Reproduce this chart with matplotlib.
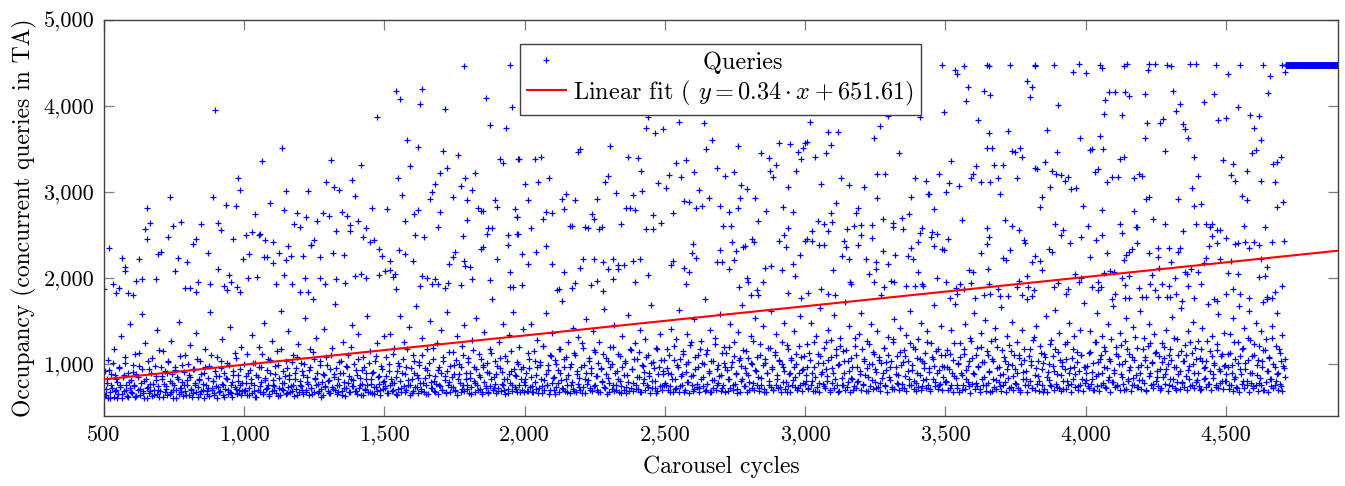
import numpy as np
import matplotlib
matplotlib.use("Agg")
import matplotlib.pyplot as plt
from matplotlib.lines import Line2D
from matplotlib.ticker import FuncFormatter, FixedLocator

plt.rcParams['font.family'] = ['cmr10', 'DejaVu Serif']
plt.rcParams['mathtext.fontset'] = 'cm'
plt.rcParams['axes.formatter.use_mathtext'] = True

# ---------------- data ----------------
# Dense band of occupancy values, one list per 500-cycle block (cycles spread evenly in block)
band_0500 = [920, 640, 780, 1050, 610, 880, 720, 1180, 690, 830, 600, 950, 760, 1320, 650, 870, 1010, 700, 620, 790,
             1460, 680, 910, 740, 1120, 630, 850, 980, 710, 1580, 660, 800, 1240, 610, 730, 940, 690, 1070, 770, 640,
             860, 1390, 700, 620, 960, 820, 1150, 670, 740, 890, 1030, 650, 1270, 780, 700, 930, 610, 850, 1490, 720,
             680, 990, 760, 1100, 640, 810, 870, 1220, 700, 660, 940, 750, 1360, 620, 830, 1040, 690, 770, 900, 1170,
             650, 720, 980, 1600, 700, 800, 640, 860, 1080, 730, 680, 950, 1290, 760, 620, 840, 1010, 700, 1430, 660,
             790, 920, 1130, 710, 650, 870, 760, 1200, 690, 1000]
band_1000 = [700, 860, 1120, 640, 930, 780, 1340, 690, 1010, 620, 850, 1200, 740, 960, 670, 1480, 810, 720, 1060, 650,
             890, 1270, 760, 700, 980, 1150, 630, 840, 1620, 710, 920, 780, 1040, 660, 1380, 870, 740, 690, 1100, 820,
             950, 640, 1230, 760, 1010, 700, 870, 1540, 680, 790, 930, 1170, 720, 650, 1060, 840, 1300, 770, 690, 990,
             620, 880, 1410, 730, 1080, 800, 660, 940, 1190, 710, 850, 1700, 750, 680, 1020, 900, 640, 1260, 790, 720,
             960, 1110, 670, 830, 1450, 740, 1000, 690, 870, 1350, 760, 640, 930, 1080, 710, 820, 1560, 680, 1150, 770,
             900, 650, 1040, 730, 1240, 860, 700, 980, 790, 1320]
band_1500 = [740, 1080, 660, 920, 1350, 780, 700, 1190, 850, 640, 1010, 1560, 720, 890, 1260, 680, 970, 810, 1430, 750,
             660, 1100, 900, 1680, 730, 840, 1020, 690, 1300, 780, 950, 650, 1170, 870, 1500, 720, 1060, 800, 680, 1240,
             930, 760, 1390, 700, 1040, 860, 660, 1610, 790, 980, 730, 1140, 880, 690, 1320, 820, 1000, 670, 1210, 760,
             1450, 900, 710, 1070, 840, 650, 1280, 960, 780, 1540, 700, 1120, 850, 680, 990, 1370, 740, 910, 660, 1180,
             820, 1760, 720, 1030, 880, 690, 1250, 950, 770, 1470, 700, 1090, 830, 660, 1340, 920, 750, 1600, 870, 710,
             1020, 1200, 680, 940, 1410, 790]
band_2000 = [820, 690, 1130, 950, 1470, 740, 680, 1040, 870, 1280, 720, 990, 660, 1210, 810, 1590, 760, 930, 700, 1090,
             1360, 850, 650, 1000, 780, 1170, 900, 1730, 710, 1060, 830, 680, 1250, 960, 750, 1420, 690, 1110, 880, 1310,
             730, 970, 660, 1190, 820, 1520, 770, 1030, 700, 890, 1380, 740, 1140, 860, 670, 1260, 950, 790, 1640, 720,
             1070, 840, 680, 1200, 1000, 760, 1450, 700, 920, 1120, 800, 660, 1330, 870, 1010, 730, 1570, 690, 1160, 940,
             780, 1240, 710, 1060, 850, 1400, 670, 980, 820, 1290, 750, 1100, 900, 1690, 720, 1020, 800, 660, 1180, 960,
             1350, 740, 880, 1050]
band_2500 = [760, 1180, 900, 680, 1410, 830, 1050, 710, 1290, 960, 1630, 740, 880, 1120, 670, 1000, 1350, 790, 1220, 860,
             690, 1520, 940, 770, 1100, 720, 1270, 1010, 850, 1760, 700, 1160, 920, 1400, 680, 1040, 810, 1300, 750, 990,
             1580, 870, 720, 1200, 960, 1130, 690, 830, 1460, 1020, 760, 1250, 900, 660, 1370, 1070, 800, 1690, 740, 950,
             1150, 870, 700, 1320, 1000, 780, 1540, 920, 1080, 720, 1230, 840, 1440, 680, 1010, 890, 1190, 760, 1620, 940,
             700, 1110, 1350, 820, 1050, 730, 1260, 970, 1480, 790, 680, 1170, 900, 1070, 750, 1380, 850, 1000, 720, 1210,
             1560, 930, 780, 1090]
band_3000 = [870, 1230, 720, 1050, 1480, 800, 960, 690, 1330, 1120, 780, 1650, 910, 1010, 740, 1260, 860, 1400, 700, 1080,
             950, 1570, 820, 1180, 680, 1000, 1300, 760, 1150, 890, 1720, 730, 1030, 1440, 840, 960, 700, 1210, 1100, 790,
             1350, 920, 1590, 750, 1060, 870, 1270, 690, 1000, 1470, 810, 1140, 940, 720, 1380, 1050, 780, 1800, 900, 1190,
             740, 1020, 1310, 850, 960, 710, 1250, 1520, 880, 1090, 770, 1420, 990, 720, 1160, 860, 1340, 1040, 750, 1620,
             930, 1200, 800, 690, 1070, 1290, 870, 1480, 740, 1010, 1130, 820, 1380, 950, 710, 1240, 1060, 1690, 790, 900,
             1170, 760, 1440, 980, 850, 1100]
band_3500 = [800, 1160, 940, 720, 1390, 1050, 860, 1700, 760, 1010, 1240, 890, 700, 1120, 1460, 830, 980, 740, 1300, 1070,
             900, 1590, 780, 1190, 960, 710, 1360, 1020, 850, 1510, 750, 1100, 920, 1270, 690, 1040, 1420, 810, 1200, 970,
             740, 1660, 880, 1080, 790, 1330, 1000, 720, 1150, 1490, 860, 940, 770, 1260, 1110, 700, 1390, 910, 1050, 830,
             1750, 760, 1180, 990, 720, 1310, 870, 1440, 1030, 800, 1210, 940, 680, 1120, 1560, 850, 1000, 760, 1280, 1090,
             920, 1630, 730, 1140, 1360, 870, 980, 710, 1230, 1060, 800, 1480, 950, 770, 1170, 1320, 880, 1020, 740, 1400,
             1110, 820, 1710, 960]
band_4000 = [900, 740, 1130, 1380, 820, 1010, 700, 1250, 1590, 880, 1060, 760, 1320, 970, 1150, 720, 1470, 850, 1040, 790,
             1680, 930, 1200, 740, 1090, 1360, 880, 1000, 700, 1270, 1530, 820, 1120, 960, 760, 1430, 1050, 870, 1190, 730,
             1620, 990, 810, 1300, 1080, 690, 1210, 1460, 900, 1020, 770, 1350, 1140, 850, 1780, 940, 720, 1240, 1070, 880,
             1400, 1000, 760, 1170, 1550, 830, 960, 700, 1290, 1100, 920, 1650, 790, 1030, 1220, 860, 1380, 980, 740, 1130,
             1490, 900, 1060, 810, 1270, 700, 1180, 1420, 950, 840, 1040, 1700, 770, 1150, 1330, 880, 1010, 730, 1230, 1580,
             920, 1090, 800, 1360, 990]
band_4500 = [880, 1120, 760, 1350, 990, 1540, 830, 1060, 720, 1260, 1680, 940, 1180, 800, 1420, 1010, 760, 1300, 1620, 900,
             1090, 740, 1230, 1480, 870, 1050, 780, 1380, 960, 1160, 700, 1290, 1750, 920, 1080, 820, 1440, 1000, 760, 1210,
             1590, 890, 1130, 740, 1340, 980, 1060]

# Second pass over the dense core of the band (mostly 600-1300 queries)
core_0500 = [640, 710, 820, 600, 930, 680, 760, 1010, 620, 870, 700, 790, 650, 960, 730, 610, 850, 690, 1080, 760, 630,
             900, 720, 810, 660, 990, 750, 620, 880, 700, 1130, 640, 780, 940, 690, 610, 830, 720, 1040, 660, 770, 900,
             630, 700, 980, 810, 650, 740, 1160, 690, 860, 620, 770, 920, 710, 640, 1020, 800, 680, 880, 600, 750, 960,
             700, 830, 650, 1090, 720, 790, 630, 910, 690, 760, 1000, 640, 850, 710, 620, 940, 780, 670, 1060, 730, 810,
             650, 880, 700, 600, 970, 760, 690, 840, 630, 1110, 720, 800, 660, 920, 740, 610, 860, 690, 1030, 770, 640,
             900, 710, 820, 650, 990, 680, 750, 620, 870, 730, 1070, 660, 800, 700, 940, 640, 780, 690]
core_1000 = [690, 780, 640, 900, 720, 830, 660, 1010, 750, 620, 870, 700, 960, 680, 790, 1120, 650, 840, 710, 930, 760,
             630, 1050, 690, 810, 740, 880, 660, 990, 720, 640, 1170, 780, 700, 860, 650, 950, 730, 820, 680, 1020, 760,
             630, 890, 710, 1080, 670, 800, 740, 920, 650, 1000, 700, 850, 770, 640, 960, 720, 1140, 680, 830, 750, 900,
             660, 1030, 710, 790, 640, 870, 740, 990, 690, 810, 660, 1110, 730, 880, 700, 950, 650, 820, 760, 1040, 690,
             900, 720, 630, 980, 780, 860, 670, 1200, 740, 810, 690, 930, 650, 1060, 720, 840, 770, 640, 970, 700, 890,
             750, 1010, 680, 820, 660, 910, 730, 1090, 690, 850, 770, 640, 940, 710, 800]
core_1500 = [720, 860, 660, 1000, 750, 830, 690, 1120, 780, 650, 920, 710, 980, 800, 670, 1060, 740, 880, 700, 1170, 760,
             640, 950, 820, 690, 1030, 730, 870, 660, 990, 780, 710, 1100, 680, 840, 750, 930, 650, 1010, 790, 720, 1190,
             690, 860, 770, 650, 960, 740, 890, 700, 1080, 810, 680, 920, 760, 1140, 670, 850, 730, 990, 700, 1050, 640,
             880, 780, 960, 710, 1110, 690, 830, 750, 1020, 660, 900, 730, 1160, 800, 680, 940, 760, 870, 710, 1060, 650,
             970, 790, 720, 1010, 680, 890, 740, 1130, 700, 850, 770, 660, 980, 720, 1070, 690, 910, 760, 830, 650, 1040,
             710, 880, 780, 1150, 690, 940, 730, 860, 670, 1000, 750, 820, 700, 960, 680]
core_2000 = [760, 900, 690, 1060, 730, 850, 680, 1150, 790, 710, 970, 660, 1020, 820, 740, 1210, 700, 880, 760, 990, 650,
             1100, 780, 840, 700, 1050, 730, 930, 670, 1180, 810, 720, 960, 690, 1080, 750, 870, 660, 1000, 790, 710, 1130,
             680, 920, 770, 840, 700, 1240, 730, 990, 660, 890, 810, 1070, 720, 950, 690, 1160, 760, 860, 700, 1010, 670,
             940, 800, 1120, 730, 880, 650, 1040, 780, 970, 710, 1200, 690, 900, 760, 830, 680, 1090, 740, 960, 700, 1030,
             660, 870, 790, 1170, 720, 940, 690, 1060, 750, 850, 710, 1140, 670, 990, 780, 910, 700, 1080, 730, 860, 660,
             1010, 800, 950, 720, 1190, 690, 880, 740, 1050, 700, 920, 760]
core_2500 = [780, 950, 700, 1100, 740, 880, 680, 1210, 830, 720, 990, 670, 1060, 860, 750, 1150, 700, 910, 790, 1020, 660,
             1250, 760, 870, 710, 1080, 730, 960, 680, 1180, 820, 740, 1000, 690, 1120, 770, 900, 670, 1040, 810, 720, 1230,
             700, 940, 780, 860, 690, 1130, 750, 1010, 670, 930, 830, 1200, 720, 970, 700, 1090, 770, 880, 710, 1050, 680,
             980, 820, 1160, 740, 900, 670, 1070, 790, 1010, 720, 1270, 700, 930, 760, 850, 690, 1110, 750, 990, 710, 1060,
             680, 890, 800, 1190, 730, 960, 700, 1140, 760, 870, 720, 1030, 680, 1000, 790, 920, 710, 1220, 740, 880, 670,
             1050, 810, 960, 730, 1120, 700, 900, 750, 1080, 690, 940, 770]
core_3000 = [800, 970, 710, 1130, 760, 900, 690, 1250, 850, 730, 1010, 680, 1090, 880, 770, 1190, 720, 940, 800, 1050, 670,
             1280, 780, 890, 720, 1110, 750, 990, 690, 1210, 840, 760, 1030, 700, 1160, 790, 920, 680, 1070, 830, 740, 1300,
             720, 960, 800, 880, 700, 1170, 770, 1040, 690, 950, 850, 1230, 740, 1000, 710, 1120, 790, 910, 730, 1080, 690,
             1010, 840, 1190, 760, 930, 680, 1100, 810, 1040, 730, 1290, 710, 960, 780, 870, 700, 1140, 770, 1020, 720, 1090,
             690, 920, 820, 1240, 750, 990, 710, 1180, 780, 890, 730, 1060, 700, 1030, 810, 950, 720, 1260, 760, 910, 690,
             1080, 830, 980, 740, 1150, 710, 930, 770, 1110, 700, 970, 790]
core_3500 = [790, 960, 700, 1120, 750, 890, 680, 1240, 840, 720, 1000, 670, 1080, 870, 760, 1180, 710, 930, 790, 1040, 660,
             1270, 770, 880, 710, 1100, 740, 980, 680, 1200, 830, 750, 1020, 690, 1150, 780, 910, 670, 1060, 820, 730, 1290,
             710, 950, 790, 870, 690, 1160, 760, 1030, 680, 940, 840, 1220, 730, 990, 700, 1110, 780, 900, 720, 1070, 680,
             1000, 830, 1180, 750, 920, 670, 1090, 800, 1030, 720, 1280, 700, 950, 770, 860, 690, 1130, 760, 1010, 710, 1080,
             680, 910, 810, 1230, 740, 980, 700, 1170, 770, 880, 720, 1050, 690, 1020, 800, 940, 710, 1250, 750, 900, 680,
             1070, 820, 970, 730, 1140, 700, 920, 760, 1100, 690, 960, 780]
core_4000 = [810, 980, 720, 1140, 770, 910, 700, 1260, 860, 740, 1020, 690, 1100, 890, 780, 1200, 730, 950, 810, 1060, 680,
             1290, 790, 900, 730, 1120, 760, 1000, 700, 1220, 850, 770, 1040, 710, 1170, 800, 930, 690, 1080, 840, 750, 1310,
             730, 970, 810, 890, 710, 1180, 780, 1050, 700, 960, 860, 1240, 750, 1010, 720, 1130, 800, 920, 740, 1090, 700,
             1020, 850, 1200, 770, 940, 690, 1110, 820, 1050, 740, 1300, 720, 970, 790, 880, 710, 1150, 780, 1030, 730, 1100,
             700, 930, 830, 1250, 760, 1000, 720, 1190, 790, 900, 740, 1070, 710, 1040, 820, 960, 730, 1270, 770, 920, 700,
             1090, 840, 990, 750, 1160, 720, 940, 780, 1120, 710, 980, 800]
core_4500 = [800, 970, 710, 1130, 760, 900, 690, 1250, 850, 730, 1010, 680, 1090, 880, 770, 1190, 720, 940, 800, 1050, 670,
             1280, 780, 890, 720, 1110, 750, 990, 690, 1210, 840, 760, 1030, 700, 1160, 790, 920, 680, 1070, 830, 740, 1300,
             720, 960, 800, 880, 700, 1170, 770, 1040, 690, 950, 850]

band_blocks = [(500, 1000, band_0500), (1000, 1500, band_1000), (1500, 2000, band_1500),
               (2000, 2500, band_2000), (2500, 3000, band_2500), (3000, 3500, band_3000),
               (3500, 4000, band_3500), (4000, 4500, band_4000), (4500, 4712, band_4500),
               (500, 1000, core_0500), (1000, 1500, core_1000), (1500, 2000, core_1500),
               (2000, 2500, core_2000), (2500, 3000, core_2500), (3000, 3500, core_3000),
               (3500, 4000, core_3500), (4000, 4500, core_4000), (4500, 4712, core_4500)]

# Individually visible high-occupancy queries (cycle, occupancy)
high_500_1250 = [(896, 3953), (1133, 3508), (1064, 3360), (978, 3159), (986, 3023), (1149, 3015), (1227, 3015),
                 (736, 2938), (889, 2938), (654, 2810), (936, 2849), (969, 2837), (1093, 2868), (1142, 2791),
                 (1189, 2760), (1219, 2705), (664, 2636), (646, 2574), (745, 2601), (776, 2647), (847, 2628),
                 (905, 2643), (917, 2558), (1037, 2740), (1178, 2628), (1200, 2589), (654, 2450), (727, 2473),
                 (828, 2450), (816, 2399), (959, 2457), (1007, 2500), (1029, 2539), (1052, 2500), (1058, 2512),
                 (1073, 2442), (1102, 2419), (1157, 2368), (1239, 2380), (519, 2353), (565, 2229), (625, 2217),
                 (694, 2275), (704, 2302), (765, 2229), (797, 2186), (870, 2287), (997, 2225), (1018, 2275),
                 (1070, 2240), (1083, 2240), (1104, 2170), (1125, 2287), (1149, 2209), (1168, 2252), (1208, 2260),
                 (574, 2128), (575, 2081), (753, 2081), (908, 2105), (947, 2035), (1142, 2035), (1218, 1996),
                 (615, 1969), (637, 1988), (687, 1984), (837, 1957), (879, 1934), (954, 1957), (1012, 1996),
                 (1047, 2011), (1113, 1934), (1169, 1930), (531, 1926), (500, 1868), (553, 1880), (543, 1822),
                 (587, 1829), (605, 1802), (788, 1880), (807, 1880), (827, 1841), (928, 1903), (937, 1864),
                 (975, 1895), (986, 1841), (1199, 1841), (1227, 1833), (1246, 1756)]
high_1250_2000 = [(1782, 4469), (1948, 4473), (1541, 4178), (1554, 4085), (1635, 4201), (1628, 4019), (1716, 3965),
                  (1861, 4089), (1954, 3984), (1472, 3876), (1876, 3779), (1932, 3748), (1581, 3601), (1621, 3519),
                  (1709, 3480), (1763, 3426), (1309, 3368), (1416, 3318), (1591, 3306), (1913, 3387), (1921, 3333),
                  (1978, 3384), (1699, 3217), (1724, 3279), (1823, 3221), (1787, 3159), (1547, 3159), (1385, 3139),
                  (1290, 3112), (1319, 3058), (1339, 3023), (1396, 2950), (1562, 2965), (1681, 3089), (1670, 3004),
                  (1662, 2915), (1743, 2946), (1773, 3070), (1813, 3023), (1794, 2911), (1894, 2907), (1903, 2826),
                  (1833, 2818), (1843, 2779), (1850, 2779), (1455, 2814), (1510, 2798), (1619, 2791), (1604, 2748),
                  (1698, 2767), (1964, 2802), (1971, 2705), (1281, 2756), (1301, 2721), (1258, 2659), (1348, 2771),
                  (1367, 2721), (1407, 2659), (1379, 2612), (1377, 2550), (1435, 2577), (1329, 2546), (1572, 2667),
                  (1691, 2593), (1793, 2670), (1868, 2577), (1883, 2577), (1866, 2508), (1425, 2477), (1464, 2438),
                  (1447, 2418), (1610, 2496), (1642, 2481), (1781, 2488), (1940, 2496), (1971, 2512), (1250, 2438),
                  (1239, 2384), (1480, 2341), (1491, 2260), (1553, 2322), (1572, 2283), (1520, 2201), (1601, 2201),
                  (1270, 2248), (1318, 2294), (1357, 2271), (1752, 2306), (1743, 2240), (1732, 2163), (1782, 2198),
                  (1788, 2139), (1804, 2124), (1844, 2333), (1852, 2357), (1902, 2217), (1941, 2384), (1948, 2074),
                  (1395, 2027), (1415, 2050), (1436, 2000), (1481, 2031), (1502, 2081), (1520, 2089), (1530, 2015),
                  (1539, 2050), (1270, 1996), (1289, 1930), (1328, 1992), (1358, 1938), (1635, 2019), (1653, 1996),
                  (1668, 1926), (1681, 1992), (1691, 1934), (1725, 1946), (1716, 1880), (1773, 1918), (1813, 1984),
                  (1876, 1973), (1542, 1872), (1627, 1911), (1947, 1891), (1958, 1891)]
high_2000_2700 = [(2075, 4484), (2440, 3876), (2432, 3744), (2465, 3686), (2494, 3728), (2550, 3814), (2640, 3802),
                  (2667, 3601), (2647, 3504), (1981, 3384), (2038, 3388), (2058, 3403), (2189, 3469), (2196, 3496),
                  (2306, 3535), (2367, 3407), (2405, 3399), (2414, 3244), (2539, 3337), (2577, 3372), (2602, 3232),
                  (2685, 3275), (2002, 3089), (2046, 3116), (2088, 3167), (2285, 3112), (2297, 3182), (2474, 3108),
                  (2514, 3194), (2558, 3174), (2504, 3046), (2620, 3023), (2012, 2903), (2132, 2915), (2149, 2977),
                  (2179, 2911), (2257, 2918), (2324, 2988), (2385, 2969), (2420, 3008), (2659, 2930), (2141, 2802),
                  (2360, 2814), (2375, 2818), (2394, 2787), (2569, 2891), (2587, 2880), (2612, 2810), (2632, 2837),
                  (2696, 2837), (1974, 2709), (2077, 2763), (2097, 2752), (2067, 2682), (2239, 2744), (2246, 2686),
                  (2457, 2728), (2530, 2752), (2021, 2585), (2160, 2601), (2168, 2601), (2216, 2589), (2227, 2585),
                  (2265, 2574), (2274, 2593), (2344, 2628), (2431, 2574), (2456, 2566), (2486, 2636), (1975, 2508),
                  (2600, 2391), (2596, 2294), (2610, 2236), (2076, 2368), (2039, 2306), (1991, 2275), (2013, 2167),
                  (2096, 2163), (2140, 2066), (2196, 2112), (2209, 2225), (2247, 2217), (2280, 2182), (2296, 2105),
                  (2316, 2217), (2334, 2151), (2334, 2105), (2354, 2151), (2385, 2201), (2413, 2217), (2439, 2031),
                  (2522, 2151), (2528, 2198), (2568, 2112), (2587, 2066), (2695, 2325), (2685, 2190), (1990, 1918),
                  (2257, 1969), (2316, 1988), (2394, 1957), (2577, 1926), (2178, 1938), (2236, 1918), (2117, 1860),
                  (2124, 1872), (2278, 1849), (2167, 1880)]
high_2700_3450 = [(3016, 3810), (3083, 3694), (3118, 3694), (3246, 3624), (3268, 3771), (3294, 3884), (3408, 3876),
                  (2760, 3531), (2906, 3570), (2947, 3562), (3000, 3570), (3007, 3577), (2992, 3512), (2976, 3461),
                  (2985, 3384), (3093, 3550), (3075, 3453), (3036, 3403), (2842, 3457), (2870, 3391), (2896, 3310),
                  (2876, 3240), (2884, 3178), (2966, 3248), (3335, 3453), (2716, 3182), (2746, 3236), (2773, 3085),
                  (2794, 3039), (2940, 3058), (3055, 3093), (3129, 3167), (3157, 3081), (3211, 3058), (3258, 3205),
                  (3284, 3209), (3392, 3167), (3431, 3132), (3439, 2977), (2769, 2926), (2822, 2930), (3257, 2926),
                  (3377, 2942), (2761, 2818), (2727, 2771), (2859, 2783), (2921, 2822), (2956, 2771), (3111, 2872),
                  (3092, 2760), (3187, 2810), (3180, 2760), (3369, 2740), (3344, 2694), (3276, 2686), (2706, 2605),
                  (2735, 2601), (2832, 2667), (2940, 2585), (3045, 2663), (3066, 2628), (3096, 2651), (3150, 2570),
                  (3174, 2601), (3199, 2616), (3237, 2612), (3313, 2639), (3314, 2593), (3348, 2566), (3418, 2577),
                  (3410, 2519), (2924, 2500), (3024, 2550), (3082, 2542), (3200, 2504), (3237, 2469), (2738, 2422),
                  (2812, 2453), (2817, 2415), (2906, 2426), (2932, 2356), (3005, 2453), (2998, 2430), (3026, 2430),
                  (3048, 2384), (3066, 2384), (3138, 2426), (3145, 2356), (3190, 2384), (3402, 2422), (2780, 2360),
                  (2786, 2368), (2755, 2310), (3378, 2349), (3277, 2310), (2703, 2186), (2746, 2213), (2727, 2105),
                  (2856, 2112), (2877, 2143), (2917, 2089), (2955, 2159), (2983, 2267), (3130, 2260), (3156, 2221),
                  (3218, 2217), (3251, 2186), (3252, 2105), (3294, 2159), (3321, 2267), (3366, 2256), (3386, 2221),
                  (3402, 2074), (3098, 2089), (3228, 2046), (2965, 2027), (2849, 1953), (2798, 1953), (2791, 1996),
                  (2763, 1899), (3161, 1957), (3164, 1926), (3244, 1957), (3283, 1891), (3307, 1969), (3317, 1950),
                  (3360, 1911), (3390, 1907), (3416, 1934), (3421, 1903), (3055, 1872), (3083, 1818), (3106, 1802),
                  (2938, 1822), (3009, 1822), (2985, 1767), (2828, 1860), (2831, 1802), (2807, 1802)]
high_3450_4180 = [(3488, 4480), (3533, 4418), (3541, 4372), (3568, 4465), (3647, 4477), (3654, 4465), (3731, 4477),
                  (3818, 4480), (3821, 4469), (3889, 4480), (3956, 4391), (3975, 4484), (4000, 4387), (4052, 4477),
                  (4059, 4438), (4137, 4465), (4148, 4484), (3792, 4291), (3809, 4225), (3801, 4104), (3581, 4221),
                  (3637, 4178), (3660, 4128), (3574, 4054), (3903, 4011), (3495, 3934), (3618, 3837), (4064, 3907),
                  (4085, 4163), (4104, 4159), (4141, 4163), (4154, 4112), (4068, 4070), (4130, 3899), (3655, 3690),
                  (3724, 3709), (3863, 3717), (3981, 3628), (4052, 3651), (3649, 3515), (3666, 3515), (3737, 3473),
                  (3749, 3461), (3766, 3508), (3774, 3403), (3897, 3465), (4016, 3492), (4023, 3500), (4062, 3500),
                  (4123, 3384), (4138, 3407), (3521, 3360), (3610, 3298), (3675, 3310), (3707, 3314), (3820, 3283),
                  (3827, 3271), (3855, 3345), (3882, 3248), (3896, 3205), (3914, 3194), (3938, 3178), (3928, 3132),
                  (4034, 3236), (4043, 3271), (4095, 3178), (4115, 3170), (4174, 3159), (3479, 3213), (3512, 3108),
                  (3548, 3066), (3592, 3167), (3600, 3209), (3627, 3116), (3660, 3112), (3686, 3159), (3756, 3159),
                  (3872, 3062), (3947, 3035), (3966, 3043), (4077, 3112), (3441, 2981), (3503, 2996), (3694, 2981),
                  (3845, 2946), (3836, 2822), (3989, 2833), (4058, 2787), (4172, 2779), (3459, 2802), (3558, 2674),
                  (3714, 2670), (3738, 2601), (3764, 2562), (3647, 2585), (3655, 2477), (3649, 2399), (3782, 2442),
                  (3784, 2403), (3890, 2632), (3918, 2558), (3913, 2500), (3946, 2411), (3982, 2477), (4009, 2608),
                  (4036, 2446), (4057, 2504), (4123, 2624), (4130, 2519), (4181, 2597), (3452, 2531), (3469, 2515),
                  (3449, 2473), (3511, 2450), (3460, 2376), (3487, 2341), (3495, 2322), (3626, 2287), (3706, 2232),
                  (3716, 2209), (3731, 2322), (3819, 2260), (3809, 2182), (3838, 2201), (3870, 2333), (3880, 2302),
                  (4017, 2244), (4075, 2294), (4143, 2267), (4153, 2298), (4164, 2337), (4136, 2209), (3584, 2093),
                  (3598, 2074), (3653, 2101), (3845, 2089), (3792, 2023), (3470, 1996), (3503, 1950), (3553, 1934),
                  (3590, 1942), (3654, 1934), (3763, 1965), (3901, 1938), (3964, 2046), (3984, 2004), (3978, 1957),
                  (4046, 1953), (4065, 2054), (4087, 2081), (4103, 2070), (4129, 1996), (4154, 2027), (3538, 1887),
                  (3568, 1872), (3687, 1872), (3756, 1899), (3794, 1899), (3815, 1860), (3888, 1891), (3938, 1868),
                  (4024, 1891), (4043, 1860), (4055, 1891), (4142, 1918), (3541, 1810), (3515, 1764), (3606, 1771),
                  (3636, 1802), (3660, 1810), (3694, 1795), (3724, 1795), (3774, 1802), (3809, 1795), (3929, 1810),
                  (4104, 1818), (4093, 1752), (4142, 1764), (4156, 1764)]
high_4180_4712 = [(4226, 4484), (4249, 4484), (4224, 4418), (4291, 4477), (4303, 4465), (4374, 4484), (4393, 4484),
                  (4466, 4480), (4549, 4477), (4632, 4480), (4702, 4477), (4508, 4376), (4657, 4345), (4712, 4391),
                  (4211, 4139), (4312, 4170), (4458, 4143), (4649, 4151), (4338, 4019), (4321, 3938), (4422, 4042),
                  (4542, 3992), (4218, 3798), (4267, 3798), (4276, 3845), (4348, 3794), (4356, 3736), (4472, 3833),
                  (4499, 3864), (4586, 3895), (4618, 3884), (4601, 3748), (4211, 3632), (4366, 3628), (4625, 3608),
                  (4283, 3480), (4387, 3407), (4489, 3372), (4526, 3325), (4594, 3457), (4609, 3488), (4668, 3329),
                  (4684, 3353), (4695, 3403), (4192, 3205), (4202, 3190), (4401, 3190), (4517, 3198), (4534, 3132),
                  (4576, 3248), (4625, 3132), (4676, 3116), (4380, 3050), (4217, 2915), (4226, 2938), (4330, 2922),
                  (4386, 2841), (4413, 2860), (4556, 2953), (4576, 2903), (4683, 2826), (4703, 2880), (4240, 2686),
                  (4184, 2597), (4283, 2624), (4348, 2546), (4393, 2632), (4431, 2632), (4451, 2632), (4444, 2593),
                  (4469, 2554), (4479, 2554), (4449, 2492), (4499, 2461), (4564, 2605), (4640, 2589), (4184, 2403),
                  (4226, 2294), (4258, 2345), (4259, 2244), (4299, 2353), (4329, 2298), (4338, 2353), (4439, 2376),
                  (4467, 2407), (4534, 2395), (4543, 2407), (4567, 2415), (4583, 2345), (4602, 2422), (4618, 2384),
                  (4666, 2422), (4709, 2430), (4431, 2236), (4422, 2170), (4306, 2190), (4479, 2217), (4517, 2198),
                  (4624, 2221), (4647, 2132), (4236, 2035), (4260, 2112), (4353, 2074), (4362, 2043), (4376, 2105),
                  (4400, 2066), (4320, 1996), (4508, 2062), (4543, 2043), (4618, 2008), (4639, 2023), (4412, 1934),
                  (4366, 1911), (4231, 1926), (4273, 1926), (4297, 1911), (4192, 1887), (4247, 1860), (4525, 1868),
                  (4550, 1810), (4500, 1810), (4582, 1771), (4677, 1833), (4701, 1907), (4647, 1775), (4201, 1783),
                  (4214, 1783), (4291, 1783), (4300, 1775), (4321, 1810), (4345, 1733), (4388, 1771), (4457, 1752),
                  (4467, 1733), (4631, 1725), (4663, 1764)]

# Saturated tail: every cycle from 4713 to 4900 sits at the cap
sat_first_cycle, sat_last_cycle, sat_value = 4713, 4900, 4480

# Linear fit from the legend
fit_slope, fit_intercept = 0.34, 651.61
fit_range = (500, 4900)

x_ticks = [500, 1000, 1500, 2000, 2500, 3000, 3500, 4000, 4500]
y_ticks = [1000, 2000, 3000, 4000, 5000]

# ---------------- assemble ----------------
xs, ys = [], []
for start, end, vals in band_blocks:
    n = len(vals)
    xs.extend(start + (np.arange(n) + 0.5) * (end - start) / n)
    ys.extend(vals)
for grp in [high_500_1250, high_1250_2000, high_2000_2700, high_2700_3450, high_3450_4180, high_4180_4712]:
    xs.extend(p[0] for p in grp)
    ys.extend(p[1] for p in grp)
sat_x = np.arange(sat_first_cycle, sat_last_cycle + 1)
xs.extend(sat_x)
ys.extend([sat_value] * len(sat_x))

fig = plt.figure(figsize=(13.45, 4.86), dpi=100)
ax = fig.add_axes([0.0773, 0.144, 0.9175, 0.8148])

blue = (0, 0, 1)
ax.plot(xs, ys, linestyle='none', marker='+', color=blue, ms=4.4, mew=0.9, zorder=2)
fx = np.array(fit_range, dtype=float)
ax.plot(fx, fit_slope * fx + fit_intercept, color=(1, 0, 0), lw=1.5, zorder=3)

ax.set_xlim(500, 4900)
ax.set_ylim(395, 5000)
ax.xaxis.set_major_locator(FixedLocator(x_ticks))
ax.yaxis.set_major_locator(FixedLocator(y_ticks))
fmt = FuncFormatter(lambda v, p: f"{int(round(v)):,}")
ax.xaxis.set_major_formatter(fmt)
ax.yaxis.set_major_formatter(fmt)
ax.tick_params(axis='both', which='major', direction='in', length=7, width=0.9, color='#7f7f7f',
               top=True, right=True, labelsize=16, pad=7)
for s in ax.spines.values():
    s.set_color('#404040')
    s.set_linewidth(1.0)

ax.set_xlabel('Carousel cycles', fontsize=17, labelpad=7)
ax.set_ylabel('Occupancy (concurrent queries in TA)', fontsize=17, labelpad=5)

h1 = Line2D([], [], linestyle='none', marker='+', color=blue, ms=4.4, mew=0.9)
h2 = Line2D([], [], color=(1, 0, 0), lw=1.5)
leg = ax.legend([h1, h2], ['                Queries', r'Linear fit ( $y = 0.34\cdot x + 651.61$)'],
                loc='upper center', bbox_to_anchor=(0.4995, 0.94), borderaxespad=0, fontsize=17.5,
                fancybox=False, framealpha=1, edgecolor='#404040', handlelength=1.6, handletextpad=0.3,
                labelspacing=0.2, borderpad=0.3)
leg.get_frame().set_linewidth(1.0)

fig.savefig('out.png', dpi=100)
